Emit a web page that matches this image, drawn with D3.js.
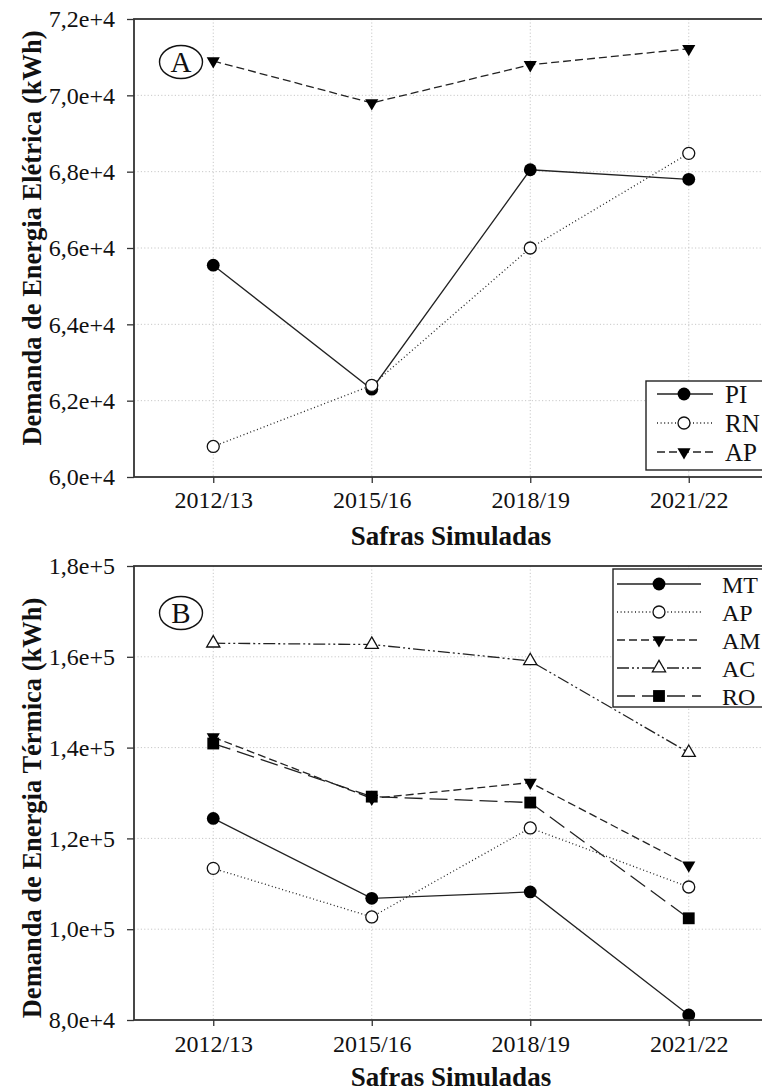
<!DOCTYPE html>
<html><head><meta charset="utf-8">
<script src="https://cdn.jsdelivr.net/npm/d3@7"></script>
<style>
html,body{margin:0;padding:0;background:#fff;overflow:hidden;}
svg{display:block;font-family:"Liberation Serif","Times New Roman",serif;}
</style></head>
<body><svg id="c" width="762" height="1091"></svg>
<script>
// ---- data ----
const safras = ["2012/13","2015/16","2018/19","2021/22"];
const ticksA = [60000,62000,64000,66000,68000,70000,72000];
const ticksB = [80000,100000,120000,140000,160000,180000];
const PI_A = [65550, 62300, 68050, 67800];
const RN_A = [60800, 62400, 66000, 68480];
const AP_A = [70900, 69800, 70800, 71220];
const MT_B = [124400, 106800, 108200, 81100];
const AP_B = [113400, 102700, 122300, 109300];
const AM_B = [142300, 128800, 132300, 114100];
const AC_B = [163000, 162700, 159100, 138900];
const RO_B = [140900, 129200, 127900, 102400];
const titleA = "Demanda de Energia Elétrica (kWh)";
const titleB = "Demanda de Energia Térmica (kWh)";
const xTitle = "Safras Simuladas";

const svg = d3.select("#c");
const fmt = d => { const e = Math.floor(Math.log10(d)+1e-9); const m = d/Math.pow(10,e); return m.toFixed(1).replace(".",",")+"e+"+e; };

const styles = {
  solid:{dash:null, marker:"circleFilled"},
  dotted:{dash:"1,2.6", marker:"circleOpen"},
  dashed:{dash:"8,4", marker:"triDown"},
  dashdotdot:{dash:"12,3,2,3,2,3", marker:"triUpOpen"},
  longdash:{dash:"18,7", marker:"square"}
};

function marker(g, type, x, y){
  if(type==="circleFilled") g.append("circle").attr("cx",x).attr("cy",y).attr("r",6.4).attr("fill","#000");
  else if(type==="circleOpen") g.append("circle").attr("cx",x).attr("cy",y).attr("r",6).attr("fill","#fff").attr("stroke","#111").attr("stroke-width",1.3);
  else if(type==="triDown") g.append("path").attr("d",d3.symbol(d3.symbolTriangle,75)()).attr("transform",`translate(${x},${y}) rotate(180)`).attr("fill","#000");
  else if(type==="triUpOpen") g.append("path").attr("d",d3.symbol(d3.symbolTriangle,75)()).attr("transform",`translate(${x},${y})`).attr("fill","#fff").attr("stroke","#111").attr("stroke-width",1.3);
  else if(type==="square") g.append("path").attr("d",d3.symbol(d3.symbolSquare,140)()).attr("transform",`translate(${x},${y})`).attr("fill","#000");
}

function panel(cfg){
  const {top,bottom,left,right,domain,ticks,series,title,letter,legend,titleY,tickBase,xTitleBase} = cfg;
  const x = d3.scalePoint().domain(safras).range([left,right]).padding(0.5);
  const y = d3.scaleLinear().domain(domain).range([bottom,top]);
  const g = svg.append("g");
  // grid
  g.selectAll(".gy").data(ticks.slice(1,-1)).join("line")
    .attr("x1",left).attr("x2",right).attr("y1",d=>y(d)).attr("y2",d=>y(d))
    .attr("stroke","#c8c8c8").attr("stroke-width",1).attr("stroke-dasharray","1.2,2.2");
  g.selectAll(".gx").data(safras).join("line")
    .attr("x1",d=>x(d)).attr("x2",d=>x(d)).attr("y1",top).attr("y2",bottom)
    .attr("stroke","#c8c8c8").attr("stroke-width",1).attr("stroke-dasharray","1.2,2.2");
  // series
  series.forEach(s=>{
    const st = styles[s.style];
    const pts = safras.map((c,i)=>[x(c), y(s.values[i])]);
    g.append("path").attr("d",d3.line()(pts)).attr("fill","none").attr("stroke","#222").attr("stroke-width",1.3)
      .attr("stroke-dasharray",st.dash);
    pts.forEach(p=>marker(g, st.marker, p[0], p[1]));
  });
  // frame
  g.append("rect").attr("x",left).attr("y",top).attr("width",right-left).attr("height",bottom-top)
    .attr("fill","none").attr("stroke","#333").attr("stroke-width",1.8);
  // axes
  const ay = g.append("g").attr("transform",`translate(${left},0)`)
    .call(d3.axisLeft(y).tickValues(ticks).tickFormat(fmt).tickSize(7).tickPadding(12));
  ay.select(".domain").remove();
  ay.selectAll("line").attr("stroke","#333").attr("stroke-width",1.3);
  ay.selectAll("text").attr("font-family","Liberation Serif, serif").attr("font-size",24).attr("fill","#111");
  const ax = g.append("g").attr("transform",`translate(0,${bottom})`)
    .call(d3.axisBottom(x).tickSize(6).tickPadding(10));
  ax.select(".domain").remove();
  ax.selectAll("line").attr("stroke","#333").attr("stroke-width",1.3);
  ax.selectAll("text").attr("font-family","Liberation Serif, serif").attr("font-size",24).attr("fill","#111")
    .attr("dy",null).attr("y",tickBase-bottom);
  // titles
  g.append("text").attr("x",(left+right)/2).attr("y",xTitleBase).attr("text-anchor","middle")
    .attr("font-weight","bold").attr("font-size",27).attr("fill","#111").text(xTitle);
  g.append("text").attr("transform",`translate(41,${titleY}) rotate(-90)`).attr("text-anchor","middle")
    .attr("font-weight","bold").attr("font-size",26.5).attr("fill","#111").text(title);
  // letter
  const lx = 181, ly = cfg.letterY;
  g.append("ellipse").attr("cx",lx).attr("cy",ly).attr("rx",21.5).attr("ry",16.5).attr("fill","#fff").attr("stroke","#111").attr("stroke-width",1.4);
  g.append("text").attr("x",lx).attr("y",ly+10).attr("text-anchor","middle").attr("font-size",29).attr("fill","#111").text(letter);
  // legend
  const L = legend;
  g.append("rect").attr("x",L.x).attr("y",L.y).attr("width",200).attr("height",L.h)
    .attr("fill","#fff").attr("stroke","#222").attr("stroke-width",1.4);
  series.forEach((s,i)=>{
    const ry = L.rows[i];
    const st = styles[s.style];
    g.append("line").attr("x1",L.l1).attr("x2",L.l2).attr("y1",ry).attr("y2",ry)
      .attr("stroke","#222").attr("stroke-width",1.3).attr("stroke-dasharray",st.dash);
    marker(g, st.marker, L.m, ry);
    g.append("text").attr("x",L.tx).attr("y",ry+8.5).attr("font-size",L.fs).attr("fill","#111").text(s.name);
  });
}

panel({top:19,bottom:477,left:134,right:768,domain:[60000,72000],ticks:ticksA,
  series:[{name:"PI",values:PI_A,style:"solid"},{name:"RN",values:RN_A,style:"dotted"},{name:"AP",values:AP_A,style:"dashed"}],
  title:titleA,letter:"A",letterY:62,titleY:238,tickBase:508,xTitleBase:545,
  legend:{x:646,y:381,h:89,rows:[394,423,452],l1:657,l2:713,m:684,tx:725,fs:25}});
panel({top:566,bottom:1020,left:134,right:768,domain:[80000,180000],ticks:ticksB,
  series:[{name:"MT",values:MT_B,style:"solid"},{name:"AP",values:AP_B,style:"dotted"},{name:"AM",values:AM_B,style:"dashed"},
          {name:"AC",values:AC_B,style:"dashdotdot"},{name:"RO",values:RO_B,style:"longdash"}],
  title:titleB,letter:"B",letterY:613,titleY:808,tickBase:1052,xTitleBase:1086,
  legend:{x:613,y:569,h:138,rows:[584,612,640,668,696],l1:617,l2:701,m:659,tx:722,fs:24}});
</script></body></html>
